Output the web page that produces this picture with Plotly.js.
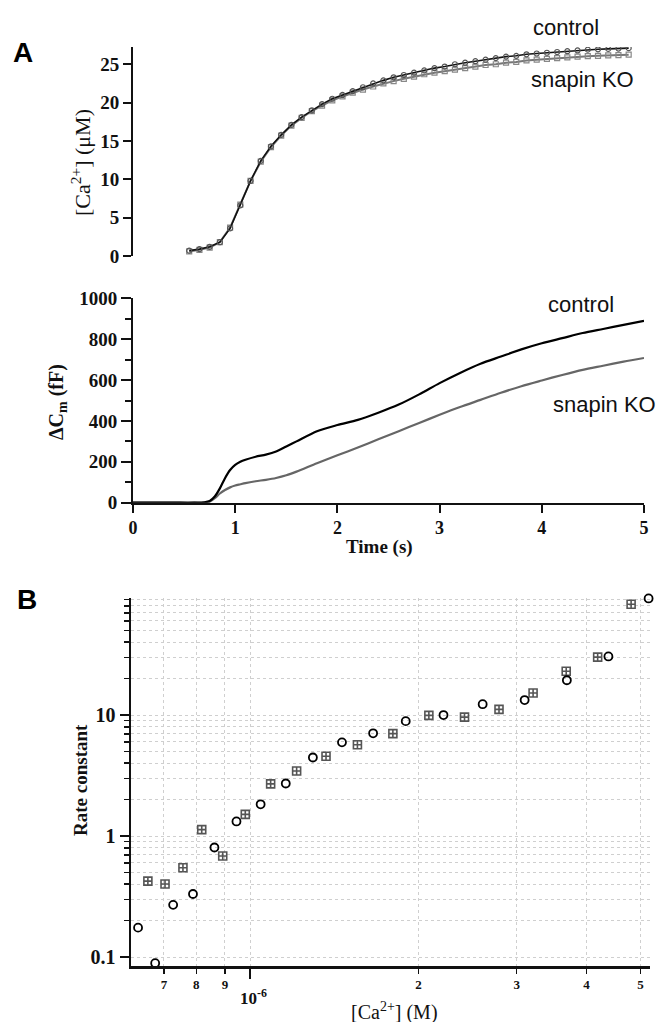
<!DOCTYPE html>
<html>
<head>
<meta charset="utf-8">
<script src="https://cdn.plot.ly/plotly-3.0.1.min.js"></script>
<style>html,body{margin:0;padding:0;background:#fff;}#chart{width:660px;height:1022px;}</style>
</head>
<body>
<div id="chart"></div>
<script>
// ---------- Panel A (top): [Ca2+] (uM) vs time (s)
var caTime = [0.55,0.65,0.75,0.85,0.95,1.05,1.15,1.25,1.35,1.45,1.55,1.65,1.75,1.85,1.95,2.05,2.15,2.25,2.35,2.45,2.55,2.65,2.75,2.85,2.95,3.05,3.15,3.25,3.35,3.45,3.55,3.65,3.75,3.85,3.95,4.05,4.15,4.25,4.35,4.45,4.55,4.65,4.75,4.85];
var caControl = [0.7,0.9,1.2,1.8,3.6,6.6,9.8,12.4,14.3,15.8,17.1,18.1,19.0,19.8,20.5,21.0,21.5,22.0,22.5,22.9,23.3,23.6,23.9,24.2,24.5,24.7,25.0,25.2,25.4,25.6,25.8,26.0,26.1,26.3,26.4,26.5,26.6,26.7,26.8,26.9,26.95,27.0,27.05,27.1];
var caSnapin = [0.6,0.8,1.1,1.8,3.7,6.7,9.8,12.3,14.2,15.7,17.0,18.0,18.9,19.6,20.3,20.8,21.3,21.7,22.1,22.5,22.8,23.1,23.4,23.7,23.9,24.1,24.3,24.5,24.7,24.9,25.0,25.2,25.3,25.5,25.6,25.7,25.8,25.9,26.0,26.05,26.1,26.15,26.2,26.25];
var caTicks = [0,5,10,15,20,25];

// ---------- Panel A (bottom): delta Cm (fF) vs time (s)
var cmTime = [0,0.2,0.4,0.6,0.7,0.75,0.8,0.85,0.9,0.95,1.0,1.05,1.1,1.2,1.3,1.4,1.5,1.6,1.8,2.0,2.2,2.4,2.6,2.8,3.0,3.2,3.4,3.6,3.8,4.0,4.2,4.4,4.6,4.8,5.0];
var cmControl = [0,0,0,0,2,8,30,70,120,160,185,200,210,225,235,250,275,300,350,380,405,440,480,530,585,635,680,715,750,780,805,830,850,870,890];
var cmSnapin = [0,0,0,0,0,5,22,45,62,75,84,90,96,105,112,121,134,152,193,232,270,310,350,390,430,468,503,538,570,598,625,650,670,690,708];
var timeTicks = [0,1,2,3,4,5];
var cmTicks = [0,200,400,600,800,1000];

// ---------- Panel B: rate constant vs [Ca2+] (uM, plotted in M)
var rateCircleCa = [0.629,0.675,0.727,0.789,0.862,0.944,1.043,1.157,1.294,1.459,1.659,1.898,2.218,2.607,3.10,3.69,4.38,5.17];
var rateCircle = [0.175,0.089,0.270,0.332,0.804,1.32,1.83,2.72,4.46,5.95,7.07,8.91,10.0,12.3,13.3,19.4,30.5,92];
var rateSquareCa = [0.655,0.703,0.757,0.818,0.892,0.979,1.087,1.210,1.366,1.555,1.80,2.088,2.419,2.789,3.21,3.68,4.19,4.81];
var rateSquare = [0.424,0.402,0.547,1.13,0.685,1.51,2.70,3.45,4.57,5.69,7.03,9.94,9.62,11.15,15.2,23.0,30.1,82.5];
var bTickX = [7e-7,8e-7,9e-7,1e-6,2e-6,3e-6,4e-6,5e-6];
var bTickXText = ["7","8","9","","2","3","4","5"];
var bMajorX = [1e-6];
var bMajorY = [0.1,1,10];
var bMajorYText = ["0.1","1","10"];
var bMinorY = [0.2,0.3,0.4,0.5,0.6,0.7,0.8,0.9,2,3,4,5,6,7,8,9,20,30,40,50,60,70,80,90];

var toM = function(a){ return a.map(function(v){ return v*1e-6; }); };
var boldText = function(a){ return a.map(function(v){ return '<b>' + v + '</b>'; }); };

var SERIF = 'Liberation Serif';
function bold(size){ return {family:SERIF, size:size, weight:700, color:'#111'}; }

var traces = [
  {x: caTime, y: caSnapin, xaxis:'x', yaxis:'y', mode:'lines+markers', name:'snapin KO',
   line:{color:'#777', width:2}, marker:{symbol:'square-open', size:5, color:'#888', line:{width:1.2}}},
  {x: caTime, y: caControl, xaxis:'x', yaxis:'y', mode:'lines+markers', name:'control',
   line:{color:'#111', width:1.6}, marker:{symbol:'circle-open', size:5, color:'#555', line:{width:1.2}}},
  {x: cmTime, y: cmSnapin, xaxis:'x2', yaxis:'y2', mode:'lines', name:'snapin KO',
   line:{color:'#666', width:2.2, shape:'spline', smoothing:0.8}},
  {x: cmTime, y: cmControl, xaxis:'x2', yaxis:'y2', mode:'lines', name:'control',
   line:{color:'#000', width:2.2, shape:'spline', smoothing:0.8}},
  {x: toM(rateSquareCa), y: rateSquare, xaxis:'x3', yaxis:'y3', mode:'markers', name:'snapin KO',
   marker:{symbol:'square-cross-open', size:8, color:'#555', line:{width:1.6}}, cliponaxis:false},
  {x: toM(rateCircleCa), y: rateCircle, xaxis:'x3', yaxis:'y3', mode:'markers', name:'control',
   marker:{symbol:'circle-open', size:8, color:'#000', line:{width:1.8}}, cliponaxis:false}
];

var H = 1022, W = 660;
function px(x){ return x/W; }
function py(y){ return 1 - y/H; }

var xdomA = [px(133), px(644)];
var xdomB = [px(131), px(650)];
var grid = {showgrid:true, gridcolor:'#cfcfcf', griddash:'dot', gridwidth:1};

var layout = {
  width: W, height: H, margin:{l:0,r:0,t:0,b:0}, showlegend:false,
  paper_bgcolor:'#fff', plot_bgcolor:'rgba(0,0,0,0)',
  font:{family:SERIF, color:'#111'},
  xaxis:{domain:xdomA, anchor:'y', range:[0,5], visible:false, fixedrange:true},
  yaxis:{domain:[py(256), py(47)], anchor:'x', range:[0,27.25], tickmode:'array', tickvals:caTicks,
    ticktext:boldText(caTicks),
    ticks:'outside', ticklen:8, tickwidth:2, tickcolor:'#111', showline:true, linewidth:2, linecolor:'#111',
    showgrid:false, zeroline:false, tickfont:bold(19)},
  xaxis2:{domain:xdomA, anchor:'y2', range:[0,5], tickmode:'array', tickvals:timeTicks, ticktext:boldText(timeTicks),
    ticks:'outside', ticklen:8, tickwidth:2,
    tickcolor:'#111', showline:true, linewidth:2, linecolor:'#111', showgrid:false, zeroline:false, tickfont:bold(18)},
  yaxis2:{domain:[py(502.7), py(298.3)], anchor:'x2', range:[0,1000], tickmode:'array', tickvals:cmTicks,
    ticktext:boldText(cmTicks), ticks:'outside', ticklen:10,
    tickwidth:2, tickcolor:'#111', showline:true, linewidth:2, linecolor:'#111', showgrid:false, zeroline:false,
    tickfont:bold(19), minor:{ticks:'outside', ticklen:6, tickwidth:2, tickcolor:'#111', dtick:100, showgrid:false}},
  xaxis3:Object.assign({domain:xdomB, anchor:'y3', type:'log', range:[-6.214,-5.284], tickmode:'array',
    tickvals:bTickX, ticktext:bTickXText, ticks:'outside', ticklen:5, tickwidth:1.5, tickcolor:'#111',
    showline:true, linewidth:2.5, linecolor:'#111', zeroline:false, tickfont:bold(13),
    minor:{tickmode:'array', tickvals:bMajorX, ticks:'outside', ticklen:10, tickwidth:2, tickcolor:'#111', showgrid:false}}, grid),
  yaxis3:Object.assign({domain:[py(966), py(597.7)], anchor:'x3', type:'log', range:[-1.074,1.97], tickmode:'array',
    tickvals:bMajorY, ticktext:bMajorYText, ticks:'outside', ticklen:9, tickwidth:2, tickcolor:'#111',
    showline:true, linewidth:2.5, linecolor:'#111', zeroline:false, tickfont:bold(20),
    minor:Object.assign({tickmode:'array', tickvals:bMinorY, ticks:'outside', ticklen:5, tickwidth:1.5, tickcolor:'#111'}, grid)}, grid),
  annotations:[
    {text:'A', xref:'paper', yref:'paper', x:px(23), y:py(52), showarrow:false, xanchor:'center', yanchor:'middle',
     font:{family:'Liberation Sans', size:28, weight:700, color:'#000'}},
    {text:'B', xref:'paper', yref:'paper', x:px(27), y:py(599), showarrow:false, xanchor:'center', yanchor:'middle',
     font:{family:'Liberation Sans', size:28, weight:700, color:'#000'}},
    {text:'control', xref:'paper', yref:'paper', x:px(566), y:py(27), showarrow:false, xanchor:'center', yanchor:'middle',
     font:{family:'Liberation Sans', size:22, color:'#111'}},
    {text:'snapin KO', xref:'paper', yref:'paper', x:px(582), y:py(79), showarrow:false, xanchor:'center', yanchor:'middle',
     font:{family:'Liberation Sans', size:22, color:'#111'}},
    {text:'control', xref:'paper', yref:'paper', x:px(581), y:py(304), showarrow:false, xanchor:'center', yanchor:'middle',
     font:{family:'Liberation Sans', size:22, color:'#111'}},
    {text:'snapin KO', xref:'paper', yref:'paper', x:px(604), y:py(404), showarrow:false, xanchor:'center', yanchor:'middle',
     font:{family:'Liberation Sans', size:22, color:'#111'}},
    {text:'[Ca<sup>2+</sup>] (\u03bcM)', xref:'paper', yref:'paper', x:px(81), y:py(163), showarrow:false, textangle:-90,
     xanchor:'center', yanchor:'middle', font:{family:SERIF, size:22, color:'#111'}},
    {text:'\u0394C<sub>m</sub> (fF)', xref:'paper', yref:'paper', x:px(58), y:py(402), showarrow:false, textangle:-90,
     xanchor:'center', yanchor:'middle', font:bold(20)},
    {text:'Time (s)', xref:'paper', yref:'paper', x:px(379), y:py(547), showarrow:false,
     xanchor:'center', yanchor:'middle', font:bold(19)},
    {text:'Rate constant', xref:'paper', yref:'paper', x:px(80), y:py(780), showarrow:false, textangle:-90,
     xanchor:'center', yanchor:'middle', font:bold(19)},
    {text:'10<sup>-6</sup>', xref:'paper', yref:'paper', x:px(253), y:py(997), showarrow:false,
     xanchor:'center', yanchor:'middle', font:bold(17)},
    {text:'[Ca<sup>2+</sup>] (M)', xref:'paper', yref:'paper', x:px(394), y:py(1011), showarrow:false,
     xanchor:'center', yanchor:'middle', font:{family:SERIF, size:20, color:'#111'}}
  ]
};

Plotly.newPlot('chart', traces, layout, {staticPlot:true, displayModeBar:false});
</script>
</body>
</html>
